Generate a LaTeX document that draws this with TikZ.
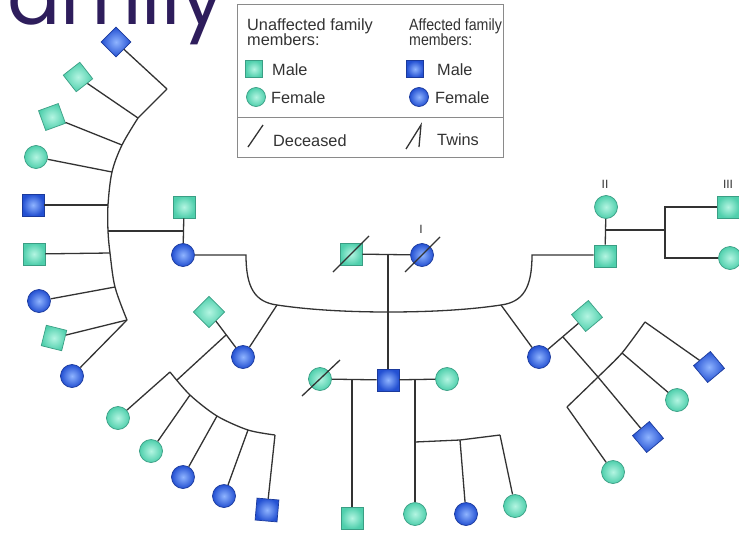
\documentclass[tikz,border=0pt]{standalone}
\usepackage{graphicx}
\usepackage{fontspec}
\setmainfont{Liberation Sans}
\newfontfamily\titlefont{Poppins}
\definecolor{lnc}{HTML}{333333}
\definecolor{teali}{HTML}{B4F5E2}
\definecolor{tealo}{HTML}{4FCFAC}
\definecolor{tealb}{HTML}{3A9E84}
\definecolor{bluei}{HTML}{8FB4FF}
\definecolor{blueo}{HTML}{2350D2}
\definecolor{blueb}{HTML}{1B3A9C}
\definecolor{titlec}{HTML}{2E1D5C}
\definecolor{legc}{HTML}{333333}
\definecolor{boxc}{HTML}{8A8A8A}
\tikzset{
  ln/.style={line width=1.3pt, draw=lnc},
  um/.style={rectangle, minimum size=22pt, inner sep=0pt, draw=tealb, line width=0.7pt, inner color=teali, outer color=tealo},
  uf/.style={circle, minimum size=23pt, inner sep=0pt, draw=tealb, line width=0.7pt, inner color=teali, outer color=tealo},
  am/.style={rectangle, minimum size=22pt, inner sep=0pt, draw=blueb, line width=0.7pt, inner color=bluei, outer color=blueo},
  af/.style={circle, minimum size=23pt, inner sep=0pt, draw=blueb, line width=0.7pt, inner color=bluei, outer color=blueo},
  legtext/.style={anchor=base west, inner sep=0pt, text=legc, font=\fontsize{16.3}{16}\selectfont},
  gen/.style={inner sep=0pt, text=legc, font=\fontsize{12}{12}\selectfont},
}
\begin{document}
\begin{tikzpicture}[x=1pt,y=-1pt]
\path[use as bounding box, fill=white] (0,0) rectangle (739,533);

% title fragment
\node[anchor=base west, inner sep=0pt, text=titlec, font=\titlefont\fontsize{79}{80}\selectfont] (title) at (7,24) {amily};

% legend
\draw[draw=boxc, line width=0.8pt] (237,4) rectangle (503,157);
\draw[draw=boxc, line width=0.8pt] (237,117) -- (503,117);
\node[legtext] (lu1) at (247,30) {Unaffected family};
\node[legtext] (lu2) at (247,45) {members:};
\node[legtext] (la1) at (409,30) {\scalebox{0.87}[1]{Affected family}};
\node[legtext] (la2) at (409,45) {\scalebox{0.87}[1]{members:}};
\node[um, minimum size=17pt] (lum) at (254,69) {};
\node[legtext] (lumt) at (272,75) {Male};
\node[uf, minimum size=19pt] (luf) at (256,97) {};
\node[legtext] (luft) at (271,103) {Female};
\node[am, minimum size=17pt] (lam) at (415,69) {};
\node[legtext] (lamt) at (437,75) {Male};
\node[af, minimum size=19pt] (laf) at (419,97) {};
\node[legtext] (laft) at (435,103) {Female};
\coordinate (ld1) at (248,147);
\coordinate (ld2) at (263,125);
\draw[ln] (ld1) -- (ld2);
\node[legtext] (ldt) at (273,146) {Deceased};
\coordinate (lt0) at (421,125);
\coordinate (lt1) at (406,149);
\coordinate (lt2) at (419,147);
\draw[ln] (lt1) -- (lt0) -- (lt2);
\node[legtext] (ltt) at (437,145) {Twins};

% generation I
\node[um] (g1m) at (351,254) {};
\node[af] (g1f) at (422,255) {};
\draw[ln] ([shift={(-18,18)}]g1m.center) -- ([shift={(18,-18)}]g1m.center);
\draw[ln] ([shift={(-17,17)}]g1f.center) -- ([shift={(18,-18)}]g1f.center);
\node[gen] (lbI) at (421,229) {I};
\coordinate (g1d) at (388,255);
\draw[ln] (g1m) -- (g1f);

% generation II main sibship
\node[af] (A) at (183,255) {};
\node[um] (Ah) at (184,207) {};
\node[af] (B) at (243,357) {};
\node[um, rotate=45] (Bh) at (209,312) {};
\node[am] (C) at (388,380) {};
\node[uf] (C1) at (320,379) {};
\node[uf] (C2) at (447,379) {};
\node[af] (D) at (539,357) {};
\node[um, rotate=40] (Dh) at (587,316) {};
\node[um] (E) at (605,256) {};
\node[uf] (Eh) at (606,207) {};
\node[gen] (lbII) at (605,184) {II};

\coordinate (sL) at (246,255);
\coordinate (bL) at (277,305);
\coordinate (sM) at (388,312);
\coordinate (dR) at (501,305);
\coordinate (sR) at (532,255);
\draw[ln] (A.east) -- (sL) .. controls (246,288) and (255,302) .. (bL)
  .. controls (310,310) and (350,312) .. (sM)
  .. controls (428,312) and (468,310) .. (dR)
  .. controls (523,302) and (532,288) .. (sR) -- (E.west |- sR);
\draw[ln] (g1d) -- (C);
\draw[ln] (bL) -- (B);
\draw[ln] (dR) -- (D);

% left family
\draw[ln] (Ah) -- (A);
\coordinate (aM) at (184,231);
\coordinate (L0) at (167,89);
\coordinate (L1) at (138,118);
\coordinate (L2) at (122,145);
\coordinate (L3) at (112,172);
\coordinate (L4) at (108,205);
\coordinate (L5) at (108,231);
\coordinate (L6) at (110,253);
\coordinate (L7) at (115,287);
\coordinate (L8) at (127,320);
\draw[ln] (aM) -- (L5);
\draw[ln] (L0) -- plot[smooth, tension=0.55] coordinates {(L1) (L2) (L3) (L4) (L5) (L6) (L7) (L8)};
\node[am, rotate=45, minimum size=21pt] (c1) at (116,42) {};
\node[um, rotate=38, minimum size=21pt] (c2) at (78,77) {};
\node[um, rotate=20, minimum size=21pt] (c3) at (52,117) {};
\node[uf] (c4) at (36,157) {};
\node[am] (c5) at (33,205) {};
\node[um] (c6) at (34,254) {};
\node[af] (c7) at (39,301) {};
\node[um, rotate=-14, minimum size=21pt] (c8) at (54,338) {};
\node[af] (c9) at (72,376) {};
\draw[ln] (c1) -- (L0);
\draw[ln] (c2) -- (L1);
\draw[ln] (c3) -- (L2);
\draw[ln] (c4) -- (L3);
\draw[ln] (c5) -- (L4);
\draw[ln] (c6) -- (L6);
\draw[ln] (c7) -- (L7);
\draw[ln] (c8) -- (L8);
\draw[ln] (c9) -- (L8);

% lower left family
\draw[ln] (Bh) -- (B);
\coordinate (bM) at (226,335);
\coordinate (P0) at (170,372);
\coordinate (bJ) at (177,380);
\coordinate (P1) at (190,395);
\coordinate (P2) at (217,416);
\coordinate (P3) at (248,430);
\coordinate (P4) at (275,435);
\draw[ln] plot[smooth, tension=0.5] coordinates {(P0) (P1) (P2) (P3) (P4)};
\draw[ln] (bM) -- (bJ);
\node[uf] (b1) at (118,418) {};
\node[uf] (b2) at (151,451) {};
\node[af] (b3) at (183,477) {};
\node[af] (b4) at (224,496) {};
\node[am, rotate=-5] (b5) at (267,510) {};
\draw[ln] (b1) -- (P0);
\draw[ln] (b2) -- (P1);
\draw[ln] (b3) -- (P2);
\draw[ln] (b4) -- (P3);
\draw[ln] (b5) -- (P4);

% center family
\draw[ln] (C1) -- (C) -- (C2);
\draw[ln] ([shift={(-18,17)}]C1.center) -- ([shift={(20,-19)}]C1.center);
\coordinate (cL) at (352,379);
\coordinate (cR) at (415,379);
\coordinate (j1) at (415,442);
\coordinate (j2) at (460,440);
\coordinate (j3) at (500,435);
\node[um] (k1) at (352,518) {};
\node[uf] (k2) at (415,514) {};
\node[af] (k3) at (466,514) {};
\node[uf] (k4) at (515,506) {};
\draw[ln] (cL) -- (k1);
\draw[ln] (cR) -- (k2);
\draw[ln] (j1) -- (j2) -- (j3);
\draw[ln] (j2) -- (k3);
\draw[ln] (j3) -- (k4);

% lower right family
\draw[ln] (D) -- (Dh);
\coordinate (dM) at (563,337);
\coordinate (dS0) at (567,407);
\coordinate (dJ) at (598,377);
\coordinate (dS2) at (622,353);
\coordinate (dS3) at (645,322);
\draw[ln] plot[smooth, tension=0.4] coordinates {(dS0) (dJ) (dS2) (dS3)};
\draw[ln] (dM) -- (dJ);
\node[uf] (d1) at (613,472) {};
\node[am, rotate=40] (d2) at (648,437) {};
\node[uf] (d3) at (677,400) {};
\node[am, rotate=40] (d4) at (709,367) {};
\draw[ln] (dS0) -- (d1);
\draw[ln] (dJ) -- (d2);
\draw[ln] (dS2) -- (d3);
\draw[ln] (dS3) -- (d4);

% upper right family
\draw[ln] (Eh) -- (E);
\coordinate (eM) at (605,230);
\coordinate (eJ) at (665,230);
\coordinate (eT) at (665,207);
\coordinate (eB) at (665,258);
\node[um] (e1) at (728,207) {};
\node[uf] (e2) at (730,258) {};
\node[gen] (lbIII) at (728,184) {III};
\draw[ln] (eM) -- (eJ);
\draw[ln] (e1) -- (eT) -- (eB) -- (e2);
\end{tikzpicture}
\end{document}
